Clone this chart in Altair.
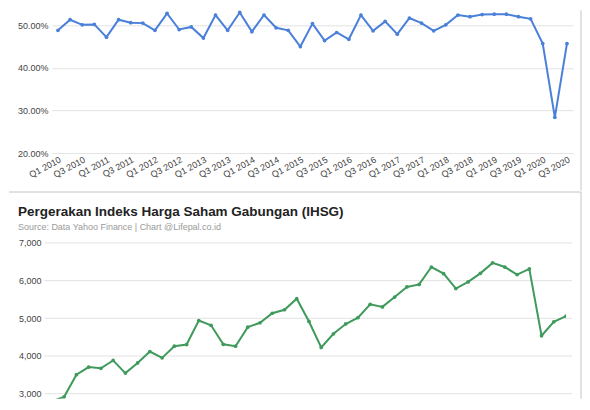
import altair as alt
import pandas as pd

quarters = [
    "Q1 2010", "Q2 2010", "Q3 2010", "Q4 2010",
    "Q1 2011", "Q2 2011", "Q3 2011", "Q4 2011",
    "Q1 2012", "Q2 2012", "Q3 2012", "Q4 2012",
    "Q1 2013", "Q2 2013", "Q3 2013", "Q4 2013",
    "Q1 2014", "Q2 2014", "Q3 2014", "Q4 2014",
    "Q1 2015", "Q2 2015", "Q3 2015", "Q4 2015",
    "Q1 2016", "Q2 2016", "Q3 2016", "Q4 2016",
    "Q1 2017", "Q2 2017", "Q3 2017", "Q4 2017",
    "Q1 2018", "Q2 2018", "Q3 2018", "Q4 2018",
    "Q1 2019", "Q2 2019", "Q3 2019", "Q4 2019",
    "Q1 2020", "Q2 2020", "Q3 2020",
]
x_tick_labels = [
    "Q1 2010", "Q3 2010", "Q1 2011", "Q3 2011", "Q1 2012", "Q3 2012",
    "Q1 2013", "Q3 2013", "Q1 2014", "Q3 2014", "Q1 2015", "Q3 2015",
    "Q1 2016", "Q3 2016", "Q1 2017", "Q3 2017", "Q1 2018", "Q3 2018",
    "Q1 2019", "Q3 2019", "Q1 2020", "Q3 2020",
]
growth_pct = [
    48.8, 51.3, 50.1, 50.2, 47.2, 51.3, 50.6, 50.5, 48.8, 52.8,
    49.0, 49.6, 47.0, 52.4, 48.8, 53.0, 48.5, 52.4, 49.4, 48.8,
    45.0, 50.4, 46.4, 48.3, 46.7, 52.4, 48.7, 50.9, 47.9, 51.7,
    50.5, 48.7, 50.1, 52.4, 52.0, 52.5, 52.6, 52.6, 52.0, 51.5,
    45.7, 28.4, 45.7,
]
ihsg = [
    2800, 2916, 3504, 3706, 3672, 3882, 3546, 3815, 4118, 3950,
    4260, 4303, 4941, 4815, 4311, 4260, 4765, 4882, 5134, 5227,
    5521, 4916, 4227, 4588, 4849, 5017, 5370, 5303, 5563, 5832,
    5899, 6361, 6185, 5790, 5966, 6193, 6471, 6361, 6160, 6311,
    4538, 4908, 5059,
]
top_y_ticks = [20, 30, 40, 50]
bottom_y_ticks = [3000, 4000, 5000, 6000, 7000]
title_text = "Pergerakan Indeks Harga Saham Gabungan (IHSG)"
subtitle_text = "Source: Data Yahoo Finance | Chart @Lifepal.co.id"

FONT = "Liberation Sans"
BLUE = "#4a80d9"
GREEN = "#3f9a5c"
GRID = "#e3e3e3"
BORDER = "#c4c4c4"
LABEL = "#444444"

df_top = pd.DataFrame({"q": quarters, "v": growth_pct})
df_bot = pd.DataFrame({"q": quarters, "v": ihsg})
df_bot_ticks = pd.DataFrame({"v": bottom_y_ticks})
one = pd.DataFrame({"k": [0]})

W1, H1 = 522, 143
W2, H2 = 515, 156
RIGHT = 530  # right frame line, relative to the plot's left edge

# ---------- top panel ----------
x_top = alt.X(
    "q:N", sort=quarters, title=None,
    scale=alt.Scale(type="point", padding=0.5),
    axis=alt.Axis(values=x_tick_labels, labelAngle=332, labelAlign="right",
                  labelBaseline="top", ticks=False, domain=False, grid=False,
                  labelPadding=2, labelFontSize=9, labelColor=LABEL,
                  labelFont=FONT, labelOverlap=False),
)
y_top = alt.Y(
    "v:Q", title=None,
    scale=alt.Scale(domain=[20, 53.5], nice=False, zero=False),
    axis=alt.Axis(values=top_y_ticks, labelExpr="format(datum.value, '.2f') + '%'",
                  ticks=False, domain=False, grid=True, gridColor=GRID,
                  labelOverlap=False, labelPadding=4, labelFontSize=9,
                  labelColor=LABEL, labelFont=FONT),
)

top_line = alt.Chart(df_top).mark_line(
    color=BLUE, strokeWidth=2,
    point=alt.OverlayMarkDef(filled=True, size=14, color=BLUE, opacity=1),
).encode(x=x_top, y=y_top)

top_border = alt.Chart(one).mark_rule(color=BORDER, strokeWidth=1).encode(
    x=alt.value(RIGHT), y=alt.value(0), y2=alt.value(180.5))
top_helper = alt.Chart(one).mark_rule(color="white", strokeWidth=1).encode(
    x=alt.value(-43), x2=alt.value(-30), y=alt.value(180.5))

top = alt.layer(top_line, top_border, top_helper).properties(width=W1, height=H1)

# ---------- bottom panel ----------
bot_scale = alt.Scale(domain=[2867.5, 7000], nice=False, zero=False)
bot_axis = alt.Axis(values=bottom_y_ticks, labelExpr="format(datum.value, ',')",
                    ticks=False, domain=False, grid=False, labelOverlap=False,
                    labelPadding=11, labelFontSize=9, labelColor=LABEL,
                    labelFont=FONT)
x_bot = alt.X("q:N", sort=quarters, title=None,
              scale=alt.Scale(type="point", padding=0), axis=None)

bot_grid = alt.Chart(df_bot_ticks).mark_rule(color=GRID, strokeWidth=1).encode(
    y=alt.Y("v:Q", title=None, scale=bot_scale, axis=bot_axis),
    x=alt.value(-7.5), x2=alt.value(521))

bot_line = alt.Chart(df_bot).mark_line(
    color=GREEN, strokeWidth=2, clip=True,
    point=alt.OverlayMarkDef(filled=True, size=14, color=GREEN, opacity=1, clip=True),
).encode(x=x_bot, y=alt.Y("v:Q", title=None, scale=bot_scale, axis=bot_axis))

bot_sep = alt.Chart(one).mark_rule(color=BORDER, strokeWidth=1).encode(
    x=alt.value(-43), x2=alt.value(RIGHT), y=alt.value(-51))
bot_border = alt.Chart(one).mark_rule(color=BORDER, strokeWidth=1).encode(
    x=alt.value(RIGHT), y=alt.value(-51), y2=alt.value(156))

bottom = alt.layer(bot_grid, bot_line, bot_sep, bot_border).properties(
    width=W2, height=H2,
    title=alt.TitleParams(
        text=title_text, subtitle=subtitle_text, anchor="start", frame="group",
        dx=-34, offset=-41, font=FONT, fontSize=13.5, fontWeight="bold",
        color="#222222", subtitleFont=FONT, subtitleFontSize=9,
        subtitleColor="#9a9a9a", subtitlePadding=5,
    ),
)

chart = alt.vconcat(top, bottom, spacing=0).properties(
    padding=0, background="white"
).configure_view(strokeWidth=0)

chart.save("out.html", embed_options={"renderer": "svg", "actions": False})
